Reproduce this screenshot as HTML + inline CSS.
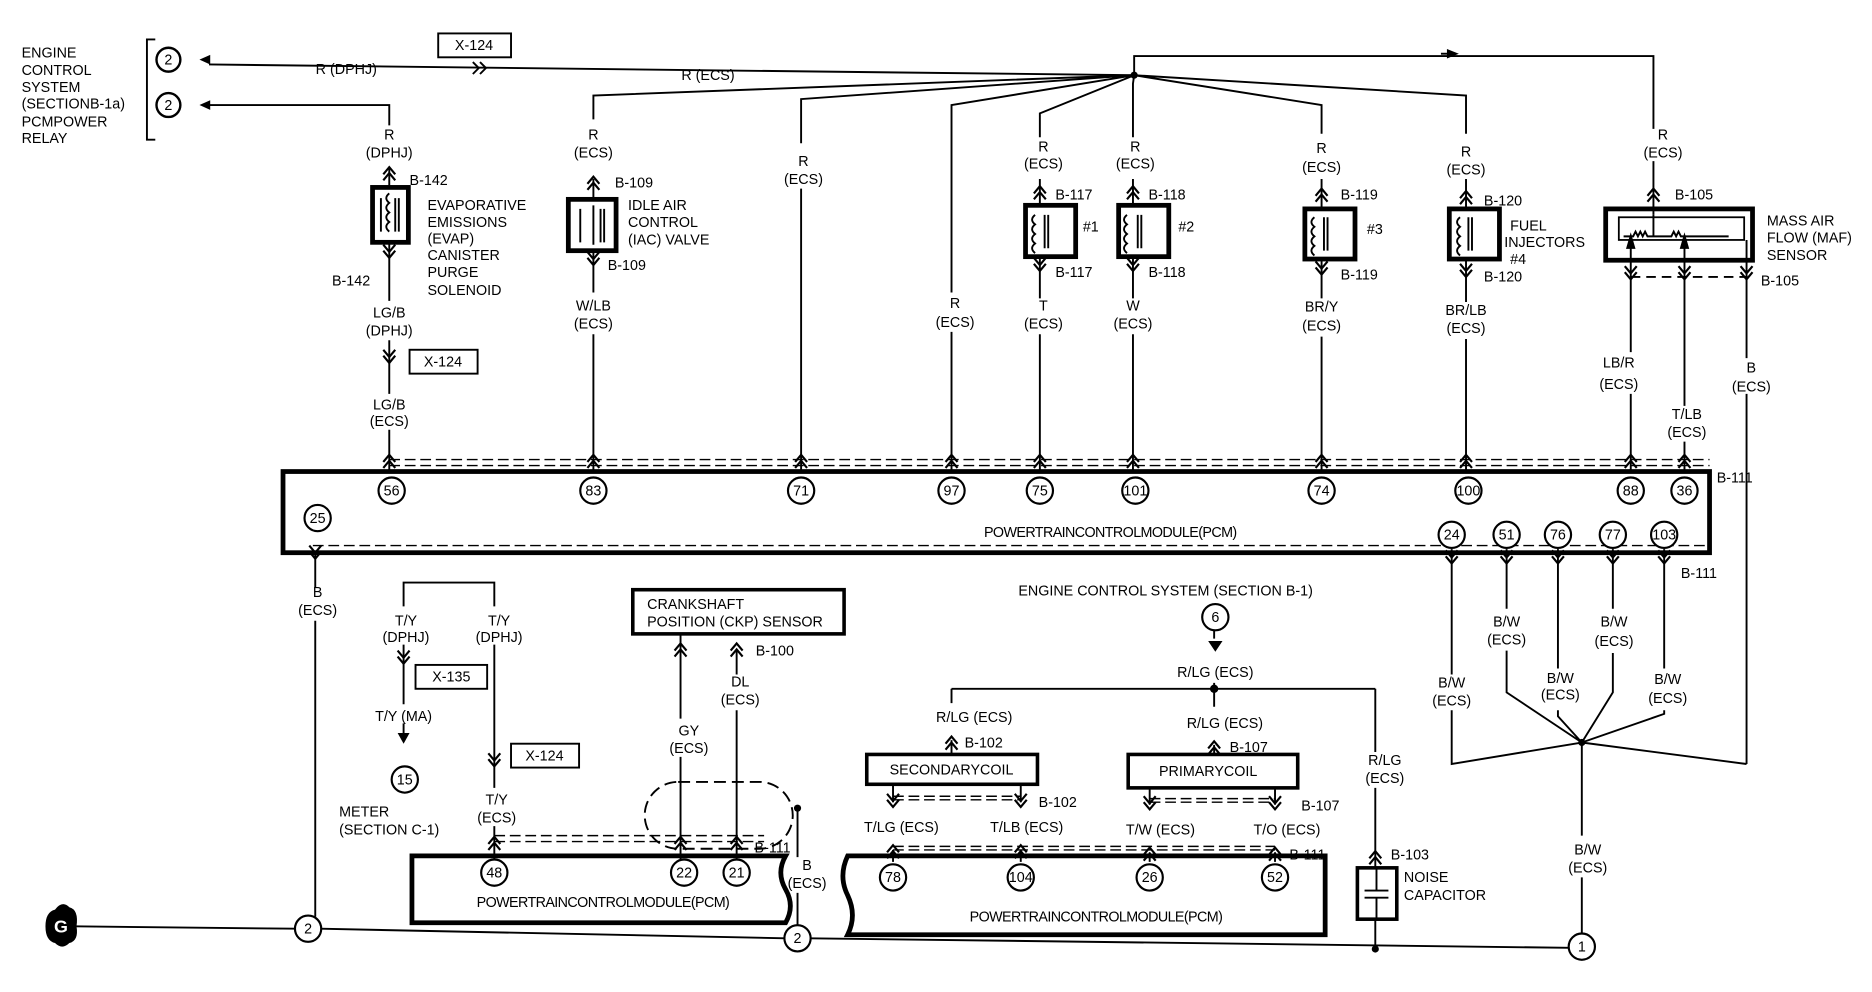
<!DOCTYPE html>
<html><head><meta charset="utf-8"><style>
html,body{margin:0;padding:0;background:#fff;}
svg{display:block}
text{font-family:"Liberation Sans",sans-serif;font-size:12px;fill:#000}
.c{text-anchor:middle}
</style></head><body>
<svg width="1872" height="992" viewBox="0 0 1568 831" xmlns="http://www.w3.org/2000/svg">
<defs>
<g id="cu"><path d="M-5,4 L0,-2 L5,4 M-5,9 L0,3 L5,9" fill="none" stroke="#000" stroke-width="1.8"/></g>
<g id="cd"><path d="M-5,-4 L0,2 L5,-4 M-5,-9 L0,-3 L5,-9" fill="none" stroke="#000" stroke-width="1.8"/></g>
</defs>
<g fill="none" stroke="#000" stroke-width="1.6">
<path d="M130,33 H123 V117 H130"/>
<circle cx="141" cy="50" r="10" stroke-width="2"/>
<circle cx="141" cy="88" r="10" stroke-width="2"/>
<path d="M175,54 L950,63 M175,88 H326 V105"/>
<rect x="367" y="28" width="61" height="20"/>
<path d="M396,52 L401,57 L396,62 M402,52 L407,57 L402,62"/>
<path d="M950,63 L497,80 V100 M950,63 L671,83 V120 M950,63 L797,88 V245 M950,63 L871,95 V115 M950,63 L949,70 V115 M950,63 L1107,88 V112 M950,63 L1228,80 V112 M950,63 V47 H1385 V108"/>
<path d="M1207,45 H1218"/>
<path d="M326,140 V157 M326,203 V252 M326,285 V330 M326,360 V395 M497,150 V167 M497,210 V245 M497,280 V395 M671,158 V395 M797,278 V395 M871,150 V172 M871,215 V250 M871,280 V395 M949,150 V172 M949,215 V250 M949,280 V395 M1107,150 V175 M1107,217 V250 M1107,282 V395 M1228,150 V175 M1228,217 V253 M1228,284 V395 M1385,135 V180"/>
<rect x="312" y="157" width="30" height="46" stroke-width="4"/>
<rect x="476" y="167" width="40" height="43" stroke-width="4"/>
<rect x="859" y="172" width="42" height="43" stroke-width="4"/>
<rect x="937" y="172" width="42" height="43" stroke-width="4"/>
<rect x="1093" y="175" width="42" height="42" stroke-width="4"/>
<rect x="1214" y="175" width="42" height="42" stroke-width="4"/>
<rect x="1345" y="175" width="123" height="43" stroke-width="4"/>
<rect x="1356" y="182" width="105" height="19" stroke-width="1.5"/>
<path d="M319,166 v28 M334,166 v28 M331,166 v28 M486,175 v28 M506,175 v28 M503,175 v28 M875,180 v28 M878,180 v28 M953,180 v28 M956,180 v28 M1109,182 v28 M1112,182 v28 M1230,182 v28 M1233,182 v28"/>
<path d="M326,162 q-5,4 0,8 q-5,4 0,8 q-5,4 0,8 q-5,4 0,8 M497,172 V205 M867,180 q-5,4 0,8 q-5,4 0,8 q-5,4 0,8 q-5,4 0,8 M944,180 q-5,4 0,8 q-5,4 0,8 q-5,4 0,8 q-5,4 0,8 M1101,182 q-5,4 0,8 q-5,4 0,8 q-5,4 0,8 q-5,4 0,8 M1223,182 q-5,4 0,8 q-5,4 0,8 q-5,4 0,8 q-5,4 0,8"/>
<path d="M1360,198 h8 l2,-4 l2,4 l2,-4 l2,4 l2,-4 l2,4 h20 l2,-4 l2,4 l2,-4 l2,4 h40"/>
<path d="M1385,180 V198"/>
<path d="M1366,200 V295 M1366,330 V395 M1411,200 V340 M1411,370 V395 M1463,201 V300 M1463,330 V640"/>
<path d="M1366,232 H1463" stroke-dasharray="8,5"/>
<rect x="237" y="395" width="1195" height="68" stroke-width="4"/>
<path d="M326,385 H1432 M326,390 H1432 M262,457 H1432 M262,462 H1432" stroke-dasharray="9,4" stroke-width="1.2"/>
<path d="M264,463 V492 M264,520 V768"/>
<path d="M1216,460 V565 M1216,595 V640 L1325,622 M1262,460 V510 M1262,545 V580 L1325,622 M1305,460 V560 M1305,595 V600 L1325,622 M1351,460 V510 M1351,547 V580 L1325,622 M1394,460 V560 M1394,595 V598 L1325,622 M1463,640 L1325,622 M1325,622 V700 M1325,735 V783"/>
<path d="M62,776 L248,778 M268,778 L658,786 M678,786 L1315,794"/>
<path d="M338,508 V488 H414 V508 M338,540 V590 M338,606 V618 M414,540 V660 M414,692 V720"/>
<rect x="348" y="557" width="60" height="20"/>
<rect x="428" y="623" width="57" height="20"/>
<rect x="343" y="293" width="57" height="20"/>
<path d="M345,717 H658 q-8,14 0,28 q8,14 0,28 H345 Z" stroke-width="4"/>
<path d="M414,700 H640 M414,705 H640" stroke-dasharray="9,4" stroke-width="1.2"/>
<rect x="530" y="494" width="177" height="37" stroke-width="3"/>
<path d="M570,531 V602 M570,634 V720 M617,545 V565 M617,595 V720"/>
<rect x="540" y="655" width="124" height="56" rx="28" stroke-dasharray="10,5"/>
<path d="M668,677 V718 M668,748 V776"/>
<path d="M710,717 H1110 V783 H710 q8,-16 0,-33 q-8,-16 0,-33 Z" stroke-width="4"/>
<path d="M748,709 H1068 M748,712 H1068" stroke-dasharray="9,4" stroke-width="1.2"/>
<path d="M748,667 H855 M748,670 H855 M963,669 H1068 M963,672 H1068" stroke-dasharray="9,4" stroke-width="1.2"/>
<rect x="726" y="632" width="143" height="25" stroke-width="3"/>
<rect x="945" y="632" width="142" height="28" stroke-width="3"/>
<path d="M797,577 H1152 M797,577 V589 M797,620 V632 M1017,528 V535 M1017,572 V592 M1017,624 V632 M1152,577 V630 M1152,660 V727"/>
<path d="M748,657 V672 M748,712 V722 M855,657 V672 M855,712 V722 M963,660 V674 M963,714 V722 M1068,660 V674 M1068,714 V722"/>
<rect x="1137" y="727" width="33" height="43" stroke-width="3"/>
<path d="M1153,727 V746 M1143,746 H1163 M1143,752 H1163 M1153,752 V770 M1152,770 V795"/>
</g>
<g fill="#000">
<circle cx="950" cy="63" r="3"/><circle cx="1017" cy="577" r="3.5"/><circle cx="1152" cy="795" r="3"/><circle cx="668" cy="677" r="3"/><circle cx="1325" cy="622" r="3"/>
<polygon points="167,50 176,46 176,54"/><polygon points="167,88 176,84 176,92"/>
<polygon points="1222,45 1212,41 1212,49"/>
<polygon points="1012,537 1024,537 1018,546"/>
<polygon points="333,614 343,614 338,623"/>
<polygon points="1364,207 1368,207 1366,200" stroke="#000" stroke-width="3"/>
<polygon points="1409,207 1413,207 1411,200" stroke="#000" stroke-width="3"/>
<path d="M38,776 q0,-12 8,-14 q6,-8 12,-2 q8,2 6,16 q2,12 -6,14 q-6,6 -12,0 q-8,-2 -8,-14Z"/>
</g>
<text x="51" y="781" class="c" style="font-weight:bold;font-size:15px;fill:#fff">G</text>
<g>
<use href="#cu" x="326" y="142"/><use href="#cu" x="497" y="150"/><use href="#cu" x="871" y="158"/><use href="#cu" x="949" y="158"/><use href="#cu" x="1107" y="160"/><use href="#cu" x="1228" y="162"/><use href="#cu" x="1385" y="160"/>
<use href="#cd" x="497" y="220"/><use href="#cd" x="871" y="225"/><use href="#cd" x="949" y="225"/><use href="#cd" x="1107" y="228"/><use href="#cd" x="1228" y="230"/><use href="#cd" x="1366" y="232"/><use href="#cd" x="1411" y="232"/><use href="#cd" x="1463" y="232"/><use href="#cd" x="326" y="214"/>
<use href="#cd" x="326" y="302"/>
<use href="#cu" x="326" y="383"/><use href="#cu" x="497" y="383"/><use href="#cu" x="671" y="383"/><use href="#cu" x="797" y="383"/><use href="#cu" x="871" y="383"/><use href="#cu" x="949" y="383"/><use href="#cu" x="1107" y="383"/><use href="#cu" x="1228" y="383"/><use href="#cu" x="1366" y="383"/><use href="#cu" x="1411" y="383"/>
<use href="#cd" x="264" y="466"/><use href="#cd" x="1216" y="470"/><use href="#cd" x="1262" y="470"/><use href="#cd" x="1305" y="470"/><use href="#cd" x="1351" y="470"/><use href="#cd" x="1394" y="470"/>
<use href="#cd" x="338" y="554"/><use href="#cd" x="414" y="640"/><use href="#cu" x="414" y="703"/>
<use href="#cu" x="570" y="541"/><use href="#cu" x="617" y="541"/><use href="#cu" x="570" y="703"/><use href="#cu" x="617" y="703"/>
<use href="#cu" x="797" y="619"/><use href="#cu" x="1017" y="623"/><use href="#cd" x="748" y="674"/><use href="#cd" x="855" y="674"/><use href="#cd" x="963" y="676"/><use href="#cd" x="1068" y="676"/>
<use href="#cu" x="748" y="710"/><use href="#cu" x="855" y="710"/><use href="#cu" x="963" y="712"/><use href="#cu" x="1068" y="712"/><use href="#cu" x="1152" y="715"/>
</g>
<g fill="#fff" stroke="#000" stroke-width="1.8">
<circle cx="328" cy="411" r="11"/><circle cx="497" cy="411" r="11"/><circle cx="671" cy="411" r="11"/><circle cx="797" cy="411" r="11"/><circle cx="871" cy="411" r="11"/><circle cx="951" cy="411" r="11"/><circle cx="1107" cy="411" r="11"/><circle cx="1230" cy="411" r="11"/><circle cx="1366" cy="411" r="11"/><circle cx="1411" cy="411" r="11"/><circle cx="266" cy="434" r="11"/>
<circle cx="1216" cy="448" r="11"/><circle cx="1262" cy="448" r="11"/><circle cx="1305" cy="448" r="11"/><circle cx="1351" cy="448" r="11"/><circle cx="1394" cy="448" r="11"/>
<circle cx="339" cy="653" r="11"/><circle cx="414" cy="731" r="11"/><circle cx="573" cy="731" r="11"/><circle cx="617" cy="731" r="11"/>
<circle cx="748" cy="735" r="11"/><circle cx="855" cy="735" r="11"/><circle cx="963" cy="735" r="11"/><circle cx="1068" cy="735" r="11"/>
<circle cx="1018" cy="517" r="11"/><circle cx="258" cy="778" r="11"/><circle cx="668" cy="786" r="11"/><circle cx="1325" cy="793" r="11"/>
</g>
<g style="font-size:11px">
<text x="141" y="54" class="c">2</text><text x="141" y="92" class="c">2</text>
<text x="328" y="415" class="c">56</text><text x="497" y="415" class="c">83</text><text x="671" y="415" class="c">71</text><text x="797" y="415" class="c">97</text><text x="871" y="415" class="c">75</text><text x="951" y="415" class="c">101</text><text x="1107" y="415" class="c">74</text><text x="1230" y="415" class="c">100</text><text x="1366" y="415" class="c">88</text><text x="1411" y="415" class="c">36</text><text x="266" y="438" class="c">25</text>
<text x="1216" y="452" class="c">24</text><text x="1262" y="452" class="c">51</text><text x="1305" y="452" class="c">76</text><text x="1351" y="452" class="c">77</text><text x="1394" y="452" class="c">103</text>
<text x="339" y="657" class="c">15</text><text x="414" y="735" class="c">48</text><text x="573" y="735" class="c">22</text><text x="617" y="735" class="c">21</text>
<text x="748" y="739" class="c">78</text><text x="855" y="739" class="c">104</text><text x="963" y="739" class="c">26</text><text x="1068" y="739" class="c">52</text>
<text x="1018" y="521" class="c">6</text><text x="258" y="782" class="c">2</text><text x="668" y="790" class="c">2</text><text x="1325" y="797" class="c">1</text>
</g>
<g>
<text x="18" y="48">ENGINE</text><text x="18" y="63">CONTROL</text><text x="18" y="77">SYSTEM</text><text x="18" y="91">(SECTIONB-1a)</text><text x="18" y="106">PCMPOWER</text><text x="18" y="120">RELAY</text>
<text x="290" y="62" class="c">R (DPHJ)</text><text x="397" y="42" class="c">X-124</text><text x="593" y="67" class="c">R (ECS)</text>
<text x="326" y="117" class="c">R</text><text x="326" y="132" class="c">(DPHJ)</text><text x="343" y="155">B-142</text>
<text x="358" y="176">EVAPORATIVE</text><text x="358" y="190">EMISSIONS</text><text x="358" y="204">(EVAP)</text><text x="358" y="218">CANISTER</text><text x="358" y="232">PURGE</text><text x="358" y="247">SOLENOID</text>
<text x="278" y="239">B-142</text><text x="326" y="266" class="c">LG/B</text><text x="326" y="281" class="c">(DPHJ)</text><text x="371" y="307" class="c">X-124</text><text x="326" y="343" class="c">LG/B</text><text x="326" y="357" class="c">(ECS)</text>
<text x="497" y="117" class="c">R</text><text x="497" y="132" class="c">(ECS)</text><text x="515" y="157">B-109</text><text x="526" y="176">IDLE AIR</text><text x="526" y="190">CONTROL</text><text x="526" y="205">(IAC) VALVE</text><text x="509" y="226">B-109</text><text x="497" y="260" class="c">W/LB</text><text x="497" y="275" class="c">(ECS)</text>
<text x="673" y="139" class="c">R</text><text x="673" y="154" class="c">(ECS)</text>
<text x="800" y="258" class="c">R</text><text x="800" y="274" class="c">(ECS)</text>
<text x="874" y="127" class="c">R</text><text x="874" y="141" class="c">(ECS)</text><text x="884" y="167">B-117</text><text x="907" y="194">#1</text><text x="884" y="232">B-117</text><text x="874" y="260" class="c">T</text><text x="874" y="275" class="c">(ECS)</text>
<text x="951" y="127" class="c">R</text><text x="951" y="141" class="c">(ECS)</text><text x="962" y="167">B-118</text><text x="987" y="194">#2</text><text x="962" y="232">B-118</text><text x="949" y="260" class="c">W</text><text x="949" y="275" class="c">(ECS)</text>
<text x="1107" y="128" class="c">R</text><text x="1107" y="144" class="c">(ECS)</text><text x="1123" y="167">B-119</text><text x="1145" y="196">#3</text><text x="1123" y="234">B-119</text><text x="1107" y="261" class="c">BR/Y</text><text x="1107" y="277" class="c">(ECS)</text>
<text x="1228" y="131" class="c">R</text><text x="1228" y="146" class="c">(ECS)</text><text x="1243" y="172">B-120</text><text x="1265" y="193">FUEL</text><text x="1260" y="207">INJECTORS</text><text x="1265" y="221">#4</text><text x="1243" y="236">B-120</text><text x="1228" y="264" class="c">BR/LB</text><text x="1228" y="279" class="c">(ECS)</text>
<text x="1393" y="117" class="c">R</text><text x="1393" y="132" class="c">(ECS)</text><text x="1403" y="167">B-105</text><text x="1480" y="189">MASS AIR</text><text x="1480" y="203">FLOW (MAF)</text><text x="1480" y="218">SENSOR</text><text x="1475" y="239">B-105</text>
<text x="1356" y="308" class="c">LB/R</text><text x="1356" y="326" class="c">(ECS)</text><text x="1413" y="351" class="c">T/LB</text><text x="1413" y="366" class="c">(ECS)</text><text x="1467" y="312" class="c">B</text><text x="1467" y="328" class="c">(ECS)</text>
<text x="1438" y="404">B-111</text><text x="1408" y="484">B-111</text>
<text x="930" y="450" class="c" style="letter-spacing:-0.5px">POWERTRAINCONTROLMODULE(PCM)</text>
<text x="266" y="500" class="c">B</text><text x="266" y="515" class="c">(ECS)</text>
<text x="1262" y="525" class="c">B/W</text><text x="1262" y="540" class="c">(ECS)</text><text x="1216" y="576" class="c">B/W</text><text x="1216" y="591" class="c">(ECS)</text><text x="1307" y="572" class="c">B/W</text><text x="1307" y="586" class="c">(ECS)</text><text x="1352" y="525" class="c">B/W</text><text x="1352" y="541" class="c">(ECS)</text><text x="1397" y="573" class="c">B/W</text><text x="1397" y="589" class="c">(ECS)</text><text x="1330" y="716" class="c">B/W</text><text x="1330" y="731" class="c">(ECS)</text>
<text x="340" y="524" class="c">T/Y</text><text x="340" y="538" class="c">(DPHJ)</text><text x="418" y="524" class="c">T/Y</text><text x="418" y="538" class="c">(DPHJ)</text>
<text x="378" y="571" class="c">X-135</text><text x="338" y="604" class="c">T/Y (MA)</text><text x="456" y="637" class="c">X-124</text>
<text x="284" y="684">METER</text><text x="284" y="699">(SECTION C-1)</text><text x="416" y="674" class="c">T/Y</text><text x="416" y="689" class="c">(ECS)</text>
<text x="505" y="760" class="c" style="letter-spacing:-0.5px">POWERTRAINCONTROLMODULE(PCM)</text>
<text x="542" y="510">CRANKSHAFT</text><text x="542" y="525">POSITION (CKP) SENSOR</text><text x="633" y="549">B-100</text>
<text x="620" y="575" class="c">DL</text><text x="620" y="590" class="c">(ECS)</text><text x="577" y="616" class="c">GY</text><text x="577" y="631" class="c">(ECS)</text>
<text x="632" y="714">B-111</text><text x="676" y="729" class="c">B</text><text x="676" y="744" class="c">(ECS)</text>
<text x="853" y="499">ENGINE CONTROL SYSTEM (SECTION B-1)</text><text x="1018" y="567" class="c">R/LG (ECS)</text>
<text x="816" y="605" class="c">R/LG (ECS)</text><text x="808" y="626">B-102</text><text x="797" y="649" class="c">SECONDARYCOIL</text><text x="870" y="676">B-102</text>
<text x="1026" y="610" class="c">R/LG (ECS)</text><text x="1030" y="630">B-107</text><text x="1012" y="650" class="c">PRIMARYCOIL</text><text x="1090" y="679">B-107</text>
<text x="755" y="697" class="c">T/LG (ECS)</text><text x="860" y="697" class="c">T/LB (ECS)</text><text x="972" y="699" class="c">T/W (ECS)</text><text x="1078" y="699" class="c">T/O (ECS)</text><text x="1080" y="720">B-111</text>
<text x="918" y="772" class="c" style="letter-spacing:-0.5px">POWERTRAINCONTROLMODULE(PCM)</text>
<text x="1160" y="641" class="c">R/LG</text><text x="1160" y="656" class="c">(ECS)</text><text x="1165" y="720">B-103</text><text x="1176" y="739">NOISE</text><text x="1176" y="754">CAPACITOR</text>
</g>
</svg>
</body></html>
